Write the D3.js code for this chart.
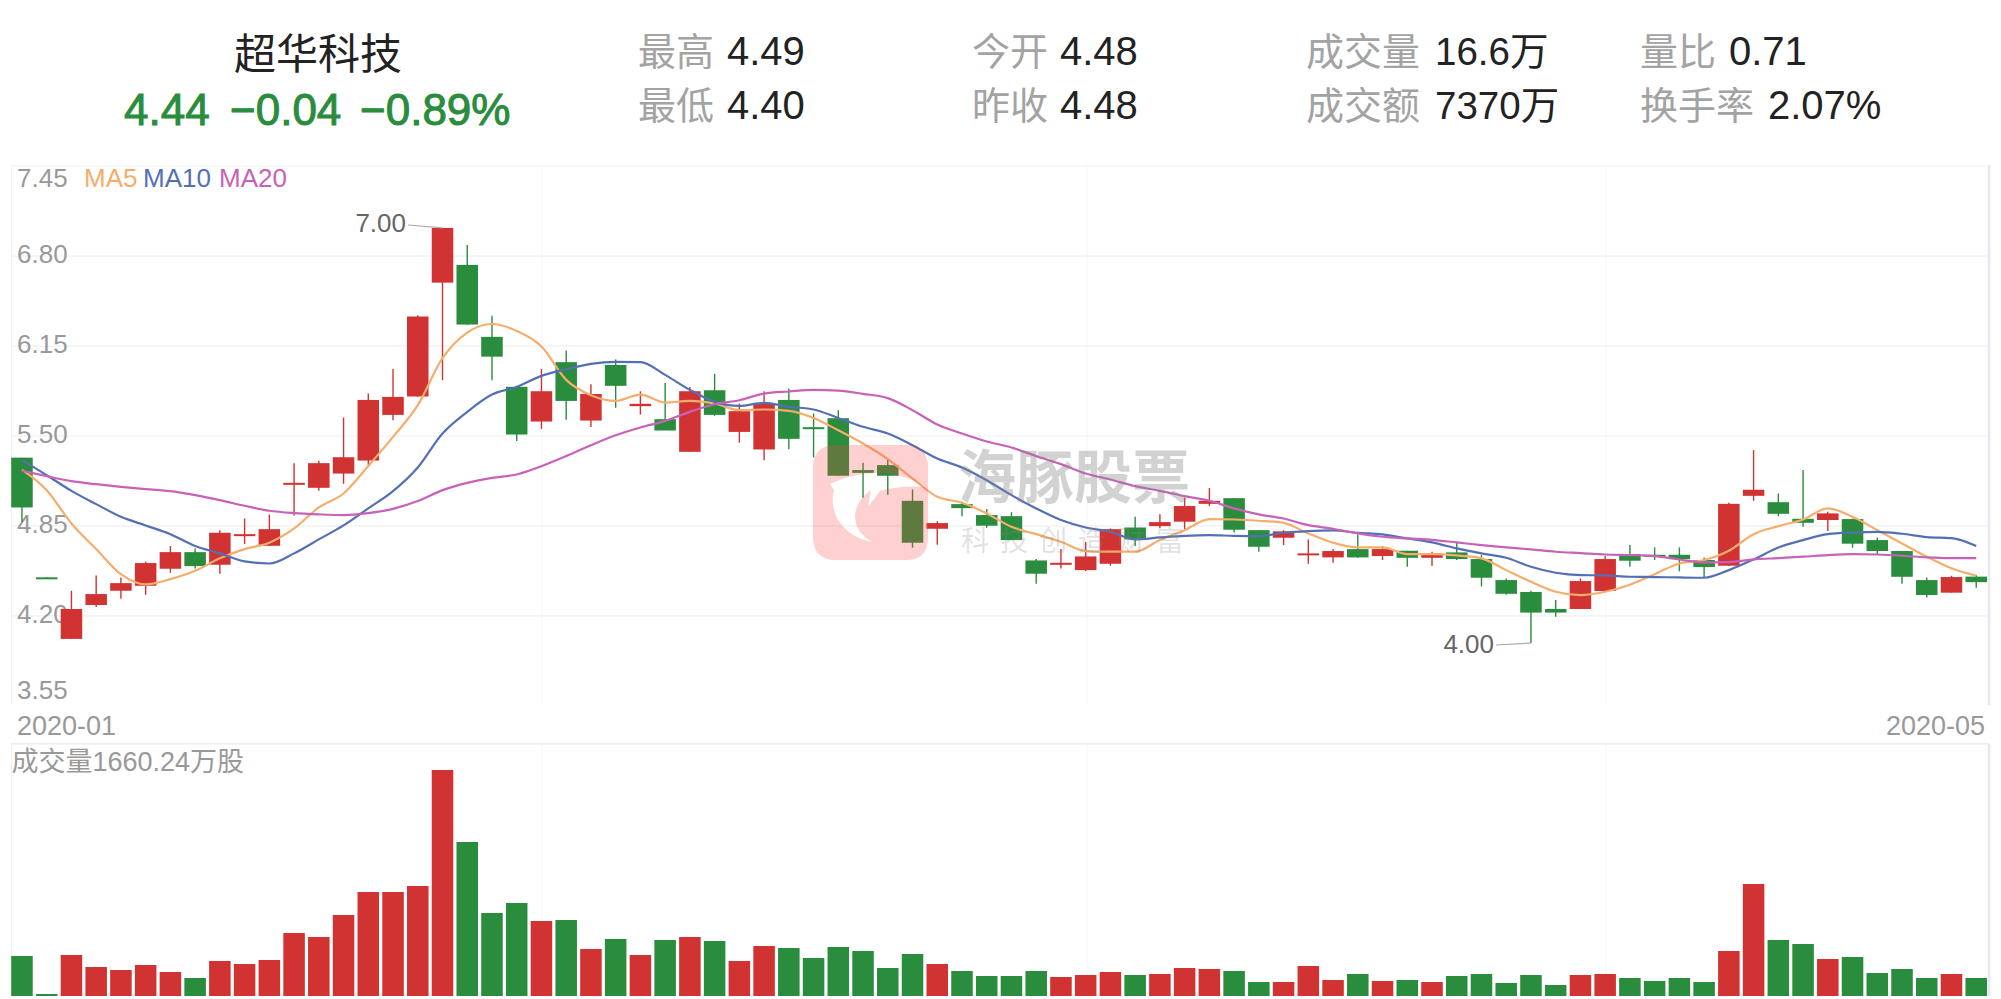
<!DOCTYPE html>
<html>
<head>
<meta charset="utf-8">
<script src="https://cdn.jsdelivr.net/npm/d3@7"></script>
<style>
    html, body { margin: 0; padding: 0; background: #fff; }
    svg { display: block; }
    text { font-family: "Liberation Sans", "Noto Sans CJK SC", sans-serif; }
</style>
</head>
<body>
<svg id="chart" width="2001" height="999"></svg>
<script>
// ----------------- data -----------------
const opens = [5.34,4.475,4.03,4.275,4.378,4.414,4.537,4.657,4.566,4.775,4.703,5.151,5.122,5.225,5.319,5.649,5.782,6.605,6.733,6.213,
    5.852,5.601,6.03,5.608,6.01,5.712,5.618,5.382,5.827,5.526,5.399,5.757,5.56,5.625,5.25,5.286,5.028,4.826,5.004,4.925,
    4.917,4.597,4.573,4.527,4.573,4.835,4.845,4.877,5.006,5.047,4.816,4.761,4.638,4.619,4.679,4.629,4.667,4.616,4.655,4.607,
    4.455,4.369,4.246,4.246,4.376,4.643,4.638,4.638,4.6,4.559,5.064,5.018,4.898,4.889,4.896,4.744,4.665,4.455,4.364,4.48]
const highs = [5.34,4.475,4.378,4.489,4.474,4.588,4.701,4.684,4.816,4.9,4.929,5.3,5.317,5.63,5.803,5.98,6.37,7.0,6.877,6.365,
    5.86,5.98,6.114,5.87,6.05,5.82,5.88,5.85,5.945,5.731,5.82,5.84,5.659,5.683,5.303,5.334,5.11,4.881,5.021,4.968,
    4.946,4.607,4.679,4.73,4.828,4.912,4.93,5.052,5.12,5.047,4.816,4.816,4.749,4.679,4.785,4.7,4.667,4.66,4.725,4.636,
    4.467,4.378,4.311,4.467,4.629,4.708,4.691,4.691,4.619,5.014,5.394,5.081,5.25,4.949,4.9,4.763,4.665,4.474,4.486,4.49]
const lows = [4.876,4.47,4.03,4.26,4.32,4.349,4.508,4.539,4.501,4.715,4.703,4.922,5.1,5.151,5.286,5.611,5.78,5.9,6.3,5.9,
    5.461,5.548,5.613,5.562,5.7,5.651,5.54,5.382,5.642,5.449,5.322,5.401,5.341,5.209,5.05,5.071,4.689,4.71,4.917,4.833,
    4.744,4.429,4.539,4.52,4.559,4.701,4.83,4.821,4.99,4.799,4.66,4.708,4.573,4.58,4.617,4.6,4.551,4.556,4.6,4.409,
    4.349,4.0,4.19,4.246,4.376,4.551,4.6,4.518,4.474,4.559,5.028,4.917,4.84,4.809,4.689,4.643,4.429,4.33,4.364,4.4]
const closes = [4.98,4.47,4.246,4.354,4.433,4.578,4.657,4.556,4.797,4.787,4.823,5.158,5.3,5.343,5.757,5.779,6.36,7.0,6.302,6.07,
    5.507,5.82,5.75,5.8,5.859,5.729,5.536,5.82,5.649,5.676,5.734,5.476,5.548,5.209,5.23,5.209,4.725,4.867,4.975,4.848,
    4.744,4.501,4.58,4.626,4.823,4.749,4.874,4.99,5.028,4.819,4.696,4.807,4.648,4.665,4.619,4.679,4.616,4.648,4.607,4.472,
    4.356,4.22,4.22,4.448,4.607,4.595,4.626,4.607,4.549,5.006,5.108,4.934,4.869,4.937,4.718,4.665,4.479,4.347,4.477,4.44]
// volume in 万股
const volumes = [3690,185,3782,2675,2399,2860,2214,1660,3229,2952,3321,5812,5443,7472,9594,9594,10148,20849,14207,7657,
    8579,6919,7011,4336,5258,3782,5166,5443,5074,3229,4612,4428,3505,4520,4151,2583,3874,2952,2306,1845,
    1845,2306,1753,1937,2214,1937,2030,2583,2491,2306,1292,1292,2768,1476,2030,1384,1476,1292,1845,2030,
    1199,1937,1015,1937,2030,1660,1384,1660,1292,4151,10332,5166,4797,3413,3598,2122,2491,1660,2030,1660.24]
const ma5 = [5.254,5.105,4.864,4.679,4.498,4.424,4.462,4.522,4.612,4.679,4.725,4.828,4.98,5.081,5.279,5.49,5.719,6.059,6.244,6.306,
    6.256,6.143,5.902,5.791,5.75,5.796,5.738,5.75,5.731,5.683,5.688,5.678,5.627,5.538,5.442,5.329,5.189,5.057,5.014,4.937,
    4.84,4.787,4.732,4.665,4.66,4.66,4.744,4.816,4.896,4.893,4.884,4.869,4.792,4.725,4.691,4.691,4.643,4.643,4.633,4.612,
    4.527,4.443,4.371,4.347,4.371,4.421,4.498,4.575,4.6,4.667,4.787,4.845,4.893,4.973,4.913,4.816,4.72,4.624,4.54,4.486]
const ma10 = [5.322,5.213,5.1,5.004,4.912,4.85,4.787,4.701,4.648,4.59,4.575,4.648,4.749,4.85,4.973,5.098,5.269,5.514,5.671,5.796,
    5.851,5.931,5.979,6.018,6.032,6.03,5.938,5.83,5.743,5.714,5.736,5.707,5.688,5.627,5.563,5.514,5.43,5.334,5.269,5.177,
    5.069,4.973,4.889,4.835,4.804,4.749,4.763,4.775,4.78,4.775,4.773,4.797,4.809,4.814,4.797,4.785,4.756,4.727,4.684,4.648,
    4.616,4.551,4.508,4.491,4.489,4.479,4.477,4.474,4.472,4.527,4.604,4.691,4.744,4.787,4.799,4.804,4.79,4.766,4.758,4.701]
const ma20 = [5.245,5.206,5.17,5.148,5.129,5.112,5.098,5.069,5.033,4.992,4.956,4.939,4.93,4.925,4.939,4.97,5.026,5.105,5.158,5.194,
    5.218,5.278,5.351,5.43,5.502,5.558,5.606,5.671,5.726,5.755,5.803,5.818,5.83,5.825,5.801,5.77,5.683,5.579,5.514,5.457,
    5.413,5.351,5.293,5.225,5.182,5.134,5.1,5.062,5.028,4.973,4.93,4.9,4.852,4.826,4.792,4.768,4.756,4.746,4.727,4.708,
    4.691,4.677,4.66,4.65,4.64,4.636,4.628,4.604,4.583,4.585,4.604,4.614,4.624,4.636,4.643,4.64,4.631,4.619,4.614,4.614]
const priceTicks = [7.45,6.8,6.15,5.5,4.85,4.2,3.55]
const statsLeft = [['最高','4.49'],['最低','4.40']]
const statsMid = [['今开','4.48'],['昨收','4.48']]
const statsVol = [['成交量','16.6万'],['成交额','7370万']]
const statsRight = [['量比','0.71'],['换手率','2.07%']]
const maSeries = [['MA5',ma5,'#f6ad6c',84],['MA10',ma10,'#5470b5',143],['MA20',ma20,'#c862b8',219]]

const RED = '#d13232'
const GREEN = '#2a8c3d'
const svg = d3.select('#chart')

// ----------------- scales --------------------
const idx = d3.range(opens.length)
const x = d3.scaleBand().domain(idx).range([9.6, 1988.6]).paddingInner(0.13).paddingOuter(0.065)
const cx = i => x(i) + x.bandwidth() / 2
const y = d3.scaleLinear().domain([3.55, 7.45]).range([705.3, 165.7])
const yVol = d3.scaleLinear().domain([0, 20849]).range([996, 770])

// ----------------- frame and grid --------------------
const monthLines = [542, 1087, 1606]
for (const [t, b] of [[165, 705], [744, 996]]) {
    svg.selectAll(null).data(monthLines).enter().append('line')
        .attr('x1', d => d).attr('x2', d => d).attr('y1', t).attr('y2', b)
        .attr('stroke', '#f6f6f8').attr('stroke-width', 1)
    svg.append('line').attr('x1', 11.5).attr('x2', 11.5).attr('y1', t).attr('y2', b).attr('stroke', '#f0f0f0')
    svg.append('line').attr('x1', 1989).attr('x2', 1989).attr('y1', t).attr('y2', b).attr('stroke', '#e6e6f4').attr('stroke-width', 2.5)
}
svg.append('line').attr('x1', 11).attr('x2', 1989).attr('y1', 743.7).attr('y2', 743.7).attr('stroke', '#ececf0').attr('stroke-width', 1.5)

const axis = d3.axisRight(y).tickValues(priceTicks).tickSize(1978).tickFormat(d3.format('.2f'))
const gAxis = svg.append('g').attr('transform', 'translate(11,0)').call(axis)
gAxis.select('.domain').remove()
gAxis.selectAll('.tick line')
    .attr('stroke', d => d === 7.45 ? '#f5f5f7' : '#f0f0f2').attr('stroke-width', 1.2)
    .attr('display', d => d === 3.55 ? 'none' : null)
gAxis.selectAll('.tick text')
    .attr('x', 6).attr('text-anchor', 'start').attr('fill', '#999').attr('font-size', 26)
    .attr('dy', d => d === 7.45 ? 21 : d === 3.55 ? -7 : 7)
    .attr('font-family', null)

// ----------------- candles --------------------
const colorOf = i => closes[i] >= opens[i] ? RED : GREEN
const candles = svg.append('g')
candles.selectAll('line').data(idx).enter().append('line')
    .attr('x1', cx).attr('x2', cx)
    .attr('y1', i => y(highs[i])).attr('y2', i => y(lows[i]))
    .attr('stroke', colorOf).attr('stroke-width', 1.4)
candles.selectAll('rect').data(idx).enter().append('rect')
    .attr('x', i => x(i)).attr('width', x.bandwidth())
    .attr('y', i => y(Math.max(opens[i], closes[i])))
    .attr('height', i => Math.max(2, Math.abs(y(opens[i]) - y(closes[i]))))
    .attr('fill', colorOf)

// ----------------- moving averages --------------------
const maLine = d3.line().x((d, i) => cx(i)).y(d => y(d)).curve(d3.curveMonotoneX)
for (const [name, vals, col, lx] of maSeries) {
    svg.append('path').attr('d', maLine(vals)).attr('fill', 'none').attr('stroke', col)
        .attr('stroke-width', 2.2).attr('stroke-linejoin', 'round')
    svg.append('text').attr('x', lx).attr('y', 187).attr('font-size', 26).attr('fill', col).text(name)
}

// ----------------- high and low call-outs --------------------
const hiIdx = d3.maxIndex(highs)
const loIdx = d3.minIndex(lows)
svg.append('text').attr('x', 406).attr('y', 232).attr('text-anchor', 'end').attr('font-size', 26).attr('fill', '#666').text('7.00')
svg.append('line').attr('x1', 408).attr('y1', 225).attr('x2', cx(hiIdx)).attr('y2', y(7.0)).attr('stroke', '#aaa').attr('stroke-width', 1.2)
svg.append('text').attr('x', 1494).attr('y', 653).attr('text-anchor', 'end').attr('font-size', 26).attr('fill', '#666').text('4.00')
svg.append('line').attr('x1', 1496).attr('y1', 645).attr('x2', cx(loIdx)).attr('y2', y(4.0)).attr('stroke', '#aaa').attr('stroke-width', 1.2)

// ----------------- date labels --------------------
svg.append('text').attr('x', 17).attr('y', 735).attr('font-size', 27).attr('fill', '#999').text('2020-01')
svg.append('text').attr('x', 1985).attr('y', 735).attr('text-anchor', 'end').attr('font-size', 27).attr('fill', '#999').text('2020-05')

// ----------------- volume bars --------------------
svg.append('g').selectAll('rect').data(idx).enter().append('rect')
    .attr('x', i => x(i)).attr('width', x.bandwidth())
    .attr('y', i => yVol(volumes[i]))
    .attr('height', i => yVol(0) - yVol(volumes[i]))
    .attr('fill', colorOf)
svg.append('text').attr('x', 11.5).attr('y', 771).attr('font-size', 27).attr('fill', '#999').text('成交量1660.24万股')

// ----------------- watermark --------------------
const wm = svg.append('g')
wm.append('path')
    .attr('fill-rule', 'evenodd').attr('fill', '#ff4444').attr('fill-opacity', 0.25)
    .attr('d', 'M836,445 H906 Q928,445 928,468 V537 Q928,560 906,560 H836 Q813,560 813,537 V468 Q813,445 836,445 Z '
        + 'M830,484 Q860,470 890,474 Q912,477 924,487 Q900,485 880,491 L868,507 L871,490 Q856,500 855,516 Q855,532 872,542 Q850,538 838,520 Q830,505 834,490 Z')
wm.append('text').attr('x', 958).attr('y', 498).attr('font-size', 58).attr('font-weight', 700)
    .attr('fill', '#888').attr('fill-opacity', 0.38).text('海豚股票')
wm.append('text').attr('x', 961).attr('y', 551).attr('font-size', 28).attr('letter-spacing', 11)
    .attr('fill', '#888').attr('fill-opacity', 0.25).text('科技创造财富')

// ----------------- header --------------------
svg.append('text').attr('x', 318).attr('y', 69).attr('text-anchor', 'middle').attr('font-size', 42).attr('fill', '#222').text('超华科技')
const headerQuote = [['4.44',124],['−0.04',230],['−0.89%',360]]
svg.selectAll(null).data(headerQuote).enter().append('text')
    .attr('x', d => d[1]).attr('y', 125).attr('font-size', 44).attr('fill', GREEN)
    .attr('stroke', GREEN).attr('stroke-width', 1).text(d => d[0])

function statBlock(rows, labelX, valueXs, valueSize) {
    rows.forEach((r, i) => {
        let base = i === 0 ? 65 : 119
        svg.append('text').attr('x', labelX).attr('y', base).attr('font-size', 38).attr('fill', '#a3a3a3').text(r[0])
        svg.append('text').attr('x', valueXs[i]).attr('y', base).attr('font-size', valueSize).attr('fill', '#222').text(r[1])
    })
}
statBlock(statsLeft, 638, [727, 727], 40)
statBlock(statsMid, 972, [1060, 1060], 40)
statBlock(statsVol, 1306, [1435, 1435], 38.5)
statBlock(statsRight, 1640, [1729, 1768], 40)
</script>
</body>
</html>
